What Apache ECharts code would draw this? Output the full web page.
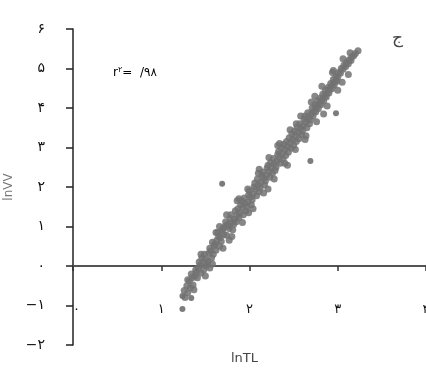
<!DOCTYPE html>
<html><head><meta charset="utf-8">
<script src="https://cdn.jsdelivr.net/npm/echarts@6/dist/echarts.min.js"></script>
<style>html,body{margin:0;padding:0;background:#fff}#c{width:426px;height:371px}</style>
</head><body><div id="c"></div>
<script>
const xTickLabels = {0:'٠',1:'١',2:'٢',3:'٣',4:'۴'};
const yTickLabels = {'-2':'−۲','-1':'−۱',0:'٠',1:'۱',2:'۲',3:'۳',4:'۴',5:'۵',6:'۶'};
const xName = 'lnTL';
const yName = 'lnVV';
const bandPoints = [
[1.26,-0.62],[1.27,-0.80],[1.29,-0.50],[1.30,-0.68],[1.32,-0.38],[1.33,-0.55],
[1.35,-0.30],[1.36,-0.48],[1.34,-0.20],[1.38,-0.25],[1.39,-0.10],
[1.41,-0.30],[1.42,-0.05],[1.40,-0.15],[1.44,0.02],[1.45,-0.18],[1.43,0.10],
[1.47,0.05],[1.48,-0.10],[1.46,0.20],[1.50,0.18],[1.51,0.00],[1.49,0.30],
[1.53,0.12],[1.54,0.32],[1.52,0.05],[1.56,0.38],[1.57,0.20],[1.55,0.45],
[1.59,0.30],[1.60,0.52],[1.58,0.60],[1.62,0.40],[1.63,0.65],[1.61,0.55],
[1.65,0.75],[1.66,0.50],[1.64,0.85],[1.68,0.62],[1.69,0.90],[1.67,0.72],
[1.71,0.80],[1.72,1.00],[1.70,0.95],[1.74,0.78],[1.75,1.05],[1.73,1.12],
[1.77,0.95],[1.78,1.20],[1.76,1.02],[1.80,1.10],[1.81,0.92],[1.79,1.30],
[1.83,1.18],[1.84,1.40],[1.82,1.05],[1.86,1.28],[1.87,1.45],[1.85,1.12],
[1.89,1.35],[1.90,1.55],[1.88,1.22],[1.92,1.48],[1.93,1.30],[1.91,1.65],
[1.95,1.58],[1.96,1.40],[1.94,1.72],[1.98,1.62],[1.99,1.80],[1.97,1.50],
[2.01,1.75],[2.02,1.55],[2.00,1.90],[2.04,1.82],[2.05,2.00],[2.03,1.68],
[2.07,1.95],[2.08,1.78],[2.06,2.10],[2.10,2.05],[2.11,1.88],[2.09,2.20],
[2.13,2.12],[2.14,2.30],[2.12,1.98],[2.16,2.22],[2.17,2.05],[2.15,2.38],
[2.19,2.30],[2.20,2.48],[2.18,2.15],[2.22,2.40],[2.23,2.25],[2.21,2.55],
[2.25,2.50],[2.26,2.35],[2.24,2.62],[2.28,2.58],[2.29,2.42],[2.27,2.72],
[2.31,2.65],[2.32,2.82],[2.30,2.50],[2.34,2.75],[2.35,2.60],[2.33,2.90],
[2.37,2.85],[2.38,2.70],[2.36,3.00],[2.40,2.95],[2.41,2.80],[2.39,3.08],
[2.43,3.02],[2.44,2.88],[2.42,3.15],[2.46,3.12],[2.47,2.98],[2.45,3.25],
[2.49,3.20],[2.50,3.05],[2.48,3.35],[2.52,3.30],[2.53,3.15],[2.51,3.42],
[2.55,3.38],[2.56,3.22],[2.54,3.52],[2.58,3.48],[2.59,3.32],[2.57,3.60],
[2.61,3.55],[2.62,3.72],[2.60,3.42],[2.64,3.65],[2.65,3.50],[2.63,3.80],
[2.67,3.75],[2.68,3.60],[2.66,3.88],[2.70,3.85],[2.71,4.00],[2.69,3.70],
[2.73,3.92],[2.74,4.08],[2.72,3.80],[2.76,4.02],[2.77,4.18],[2.75,3.90],
[2.79,4.10],[2.80,4.25],[2.78,3.98],[2.82,4.20],[2.83,4.35],[2.81,4.08],
[2.85,4.30],[2.86,4.45],[2.84,4.18],[2.88,4.38],[2.89,4.52],[2.87,4.28],
[2.91,4.48],[2.92,4.62],[2.90,4.38],[2.94,4.58],[2.95,4.72],[2.93,4.48],
[2.97,4.68],[2.98,4.80],[2.96,4.58],[3.00,4.78],[3.01,4.90],[2.99,4.68],
[3.03,4.88],[3.04,5.00],[3.06,4.98],[3.07,5.08],[3.09,5.05],[3.10,5.15],
[3.12,5.12],[3.13,5.22],[3.15,5.20],[3.16,5.30],[3.18,5.32],[3.20,5.38],[3.23,5.45]
];
const widePoints = [
[1.30,-0.35],[1.37,-0.60],[1.45,0.30],[1.50,-0.25],[1.58,0.05],[1.62,0.85],[1.70,0.45],
[1.74,1.30],[1.80,0.75],[1.86,1.65],[1.92,1.10],[1.98,1.95],[2.04,1.45],[2.10,2.35],
[2.16,1.85],[2.22,2.75],[2.28,2.20],[2.34,3.10],[2.40,2.60],[2.46,3.45],[2.52,2.95],
[2.58,3.80],[2.64,3.30],[2.70,4.15],[2.76,3.65],[2.82,4.55],[2.88,4.05],[2.94,4.90],
[3.00,4.45],[3.06,5.25],[3.12,4.85],[1.55,-0.05],[1.66,1.00],[1.77,0.65],[1.88,1.70],
[1.99,1.35],[2.11,2.45],[2.21,1.95],[2.32,3.05],[2.43,2.55],[2.53,3.60],[2.63,3.20],
[2.74,4.30],[2.84,3.85],[2.95,4.95],[3.05,4.65],[3.14,5.40]
];
const outlierPoints = [[1.69,2.08],[2.69,2.66],[2.98,3.87],[1.24,-1.09],[1.24,-0.76],[1.34,-0.81]];
const r2Text = '/۹۸';

const chart = echarts.init(document.getElementById('c'), null, {renderer:'canvas'});
const font = 'DejaVu Sans';
chart.setOption({
  backgroundColor:'#fff',
  animation:false,
  grid:{left:73, right:0, top:29, bottom:26, containLabel:false, outerBoundsMode:'none'},
  xAxis:{
    type:'value', min:0, max:4, interval:1,
    name:xName, nameLocation:'middle', nameGap:0,
    nameTextStyle:{fontFamily:font, fontSize:13, color:'#444', padding:[7,0,0,-10]},
    axisLine:{onZero:true, lineStyle:{color:'#555', width:2}},
    axisTick:{show:true, inside:false, length:5, lineStyle:{color:'#333', width:1.5}},
    axisLabel:{fontFamily:font, fontSize:13, color:'#111', margin:-42, hideOverlap:false,
      showMinLabel:true, alignMinLabel:'left',
      formatter:v=>xTickLabels[v]!==undefined?xTickLabels[v]:''},
    splitLine:{show:false}
  },
  yAxis:{
    type:'value', min:-2, max:6, interval:1,
    name:yName, nameLocation:'middle', nameGap:14, nameRotate:90,
    nameTextStyle:{fontFamily:font, fontSize:12, color:'#777'},
    axisLine:{onZero:false, lineStyle:{color:'#222', width:1.5}},
    axisTick:{show:true, length:7, lineStyle:{color:'#222', width:1.5}},
    axisLabel:{fontFamily:font, fontSize:14, color:'#111', margin:28,
      formatter:v=>yTickLabels[v]!==undefined?yTickLabels[v]:''},
    splitLine:{show:false}
  },
  graphic:[
    {type:'text', left:113, top:66, style:{
      text:'{r|r}{s|۲}{r|=  }{r|'+r2Text+'}',
      rich:{r:{fontFamily:font, fontSize:12, color:'#333'}, s:{fontFamily:font, fontSize:8, color:'#333', verticalAlign:'top', padding:[0,0,6,0]}}
    }},
    {type:'text', left:392, top:30, style:{text:'ج', fontFamily:font, fontSize:17, fill:'#444'}}
  ],
  series:[
    {type:'scatter', data:bandPoints, symbolSize:7,
      itemStyle:{color:'#727272', opacity:0.85}},
    {type:'scatter', data:widePoints, symbolSize:7,
      itemStyle:{color:'#727272', opacity:0.85}},
    {type:'scatter', data:outlierPoints, symbolSize:6,
      itemStyle:{color:'#6e6e6e', opacity:0.9}}
  ]
});
</script></body></html>
